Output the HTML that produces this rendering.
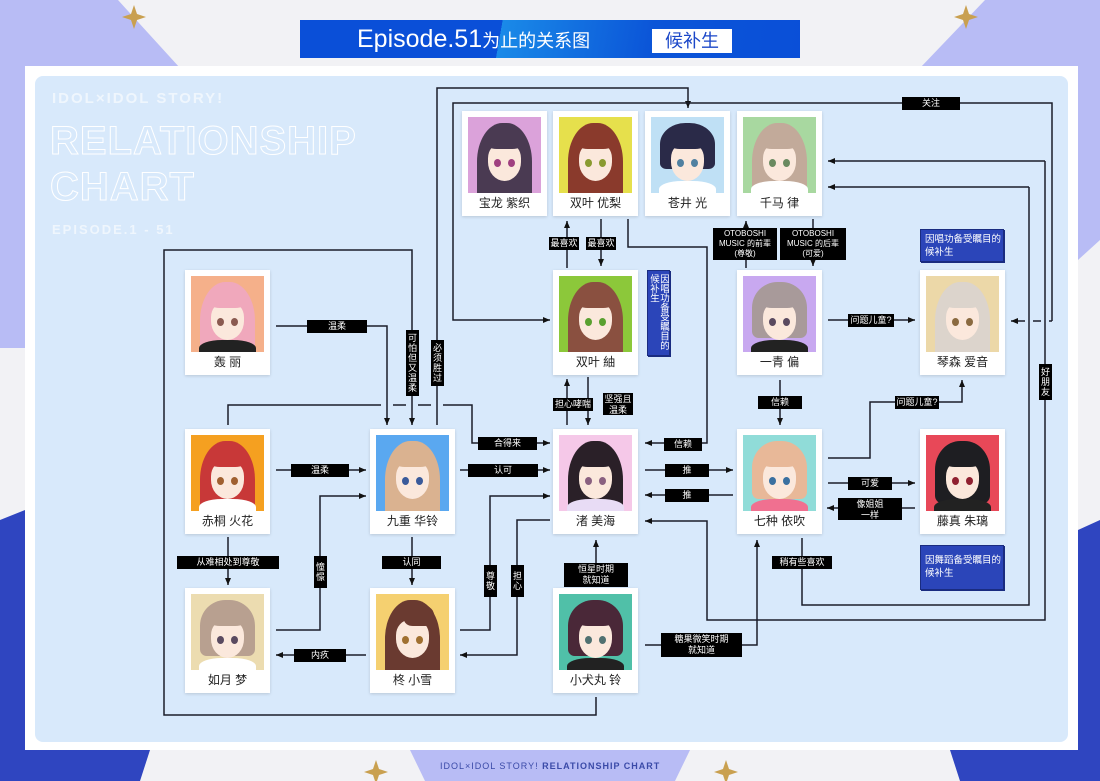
<!DOCTYPE html>
<html><head><meta charset="utf-8">
<style>
*{margin:0;padding:0;box-sizing:border-box}
body{width:1100px;height:781px;position:relative;overflow:hidden;background:#f2f2f5;font-family:"Liberation Sans","Noto Sans CJK SC",sans-serif}
.abs{position:absolute}
.card{position:absolute;width:85px;height:105px;background:#fff;box-shadow:0 1px 3px rgba(0,0,0,.15)}
.pic{position:absolute;left:6px;top:6px;width:73px;height:76px;overflow:hidden}
.hair{position:absolute;left:9px;top:6px;width:55px;height:84px;border-radius:46% 46% 12% 12%}
.face{position:absolute;left:20px;top:26px;width:33px;height:38px;background:#fbe8dc;border-radius:40% 40% 50% 50%}
.bang{position:absolute;left:17px;top:10px;width:39px;height:22px;border-radius:50% 50% 30% 30%}
.eye{position:absolute;top:42px;width:7px;height:8px;border-radius:50%;background:#5a4a60}
.body{position:absolute;left:8px;top:64px;width:57px;height:20px;background:#fff;border-radius:40% 40% 0 0}
.nm{position:absolute;top:84px;width:100%;text-align:center;font-size:12px;color:#222;line-height:16px}
.l{position:absolute;background:#000;color:#fff;font-size:9px;line-height:11px;text-align:center;padding:1px 0;white-space:nowrap}
.v{position:absolute;background:#000;color:#fff;font-size:9px;line-height:10px;width:13px;text-align:center;padding:3px 0;white-space:nowrap}
.call{position:absolute;background:#2b45b9;color:#fff;font-size:9.5px;line-height:13px;padding:3px 4px;border:1px solid #1a2c80;box-shadow:1px 1px 0 #1a2c80;white-space:nowrap}
</style></head><body>
<svg class="abs" style="left:0;top:0" width="1100" height="781">
<polygon points="0,0 118,0 180,68 0,68" fill="#b8bcf5"/>
<polygon points="985,0 1100,0 1100,68 920,68" fill="#b8bcf5"/>
<rect x="0" y="68" width="25" height="280" fill="#b8bcf5"/>
<rect x="1078" y="68" width="22" height="200" fill="#b8bcf5"/>
<polygon points="1078,260 1100,240 1100,520 1078,530" fill="#f2f2f5"/>
<polygon points="0,520 25,510 25,781 0,781" fill="#2f45c0"/>
<polygon points="1078,530 1100,520 1100,781 1078,781" fill="#2f45c0"/>
<polygon points="0,750 150,750 140,781 0,781" fill="#2f45c0"/>
<polygon points="950,750 1100,750 1100,781 960,781" fill="#2f45c0"/>
<polygon points="410,750 690,750 675,781 425,781" fill="#b8bcf5"/>
<path d="M134,5 l3,9 9,3 -9,3 -3,9 -3,-9 -9,-3 9,-3z" fill="#c9a050"/>
<path d="M966,5 l3,9 9,3 -9,3 -3,9 -3,-9 -9,-3 9,-3z" fill="#c9a050"/>
<path d="M376,760 l3,9 9,3 -9,3 -3,9 -3,-9 -9,-3 9,-3z" fill="#c9a050"/>
<path d="M726,760 l3,9 9,3 -9,3 -3,9 -3,-9 -9,-3 9,-3z" fill="#c9a050"/>
<rect x="25" y="66" width="1053" height="684" fill="#fff"/>
<rect x="35" y="76" width="1033" height="666" rx="8" fill="#d8e9fb"/>
</svg>
<div class="abs" style="left:300px;top:20px;width:500px;height:38px;background:linear-gradient(100deg,#0a4fd8 0%,#0a4fd8 40%,#1a8ae8 40%,#0b55d8 70%,#0a4fd8 100%)"></div>
<div class="abs" style="left:357px;top:21px;color:#fff;font-size:25px;line-height:36px">Episode.51<span style="font-size:18px">为止的关系图</span></div>
<div class="abs" style="left:652px;top:29px;width:80px;height:24px;background:#fff;color:#1b47c8;font-size:18px;line-height:24px;text-align:center">候补生</div>
<div class="abs" style="left:440px;top:761px;color:#3a4aa8;font-size:9px;letter-spacing:1px">IDOL×IDOL STORY! <b>RELATIONSHIP CHART</b></div>
<div class="abs" style="left:52px;top:90px;color:rgba(255,255,255,.6);font-size:15px;font-weight:bold;letter-spacing:2px">IDOL×IDOL STORY!</div>
<div class="abs" style="left:50px;top:118px;color:transparent;-webkit-text-stroke:1px #fff;font-size:40px;font-weight:bold;letter-spacing:1px;line-height:46px">RELATIONSHIP<br>CHART</div>
<div class="abs" style="left:52px;top:222px;color:rgba(255,255,255,.6);font-size:13px;font-weight:bold;letter-spacing:2px">EPISODE.1 - 51</div>

<svg class="abs" style="left:0;top:0" width="1100" height="781">
<defs><marker id="a" markerWidth="8" markerHeight="8" refX="7" refY="4" orient="auto" markerUnits="userSpaceOnUse"><path d="M0,1 L7,4 L0,7z" fill="#111"/></marker></defs>
<g fill="none" stroke="#1a1d2a" stroke-width="1.5">
<path d="M437,425 V88 H688 V108" marker-end="url(#a)"/>
<path d="M596,697 V715 H164 V250 H412 V425" marker-end="url(#a)"/>
<path d="M276,326 H387 V425" marker-end="url(#a)"/>
<path d="M1052,321 V103 H453 V320 H550" marker-end="url(#a)"/>
<path d="M1052,321 H1049 M1041,321 H1033 M1025,321 H1011" marker-end="url(#a)"/>
<path d="M1045,161 H828" marker-end="url(#a)"/>
<path d="M1045,161 V620 H707 V521 H645" marker-end="url(#a)"/>
<path d="M1029,187 H828" marker-end="url(#a)"/>
<path d="M1029,187 V605 H802 V538"/>
<path d="M628,219 V247 H707 V443 H645" marker-end="url(#a)"/>
<path d="M567,268 V221" marker-end="url(#a)"/>
<path d="M601,219 V266" marker-end="url(#a)"/>
<path d="M746,268 V221" marker-end="url(#a)"/>
<path d="M813,219 V266" marker-end="url(#a)"/>
<path d="M828,320 H915" marker-end="url(#a)"/>
<path d="M780,380 V425" marker-end="url(#a)"/>
<path d="M828,458 H870 V402 H962 V380" marker-end="url(#a)"/>
<path d="M828,483 H915" marker-end="url(#a)"/>
<path d="M915,508 H827" marker-end="url(#a)"/>
<path d="M645,470 H733" marker-end="url(#a)"/>
<path d="M733,495 H645" marker-end="url(#a)"/>
<path d="M567,425 V379" marker-end="url(#a)"/>
<path d="M588,377 V425" marker-end="url(#a)"/>
<path d="M460,470 H550" marker-end="url(#a)"/>
<path d="M228,425 V405 H381 M393,405 H406 M418,405 H431 M443,405 H472 V443 H550" marker-end="url(#a)"/>
<path d="M276,470 H366" marker-end="url(#a)"/>
<path d="M228,537 V585" marker-end="url(#a)"/>
<path d="M276,630 H320 V496 H366" marker-end="url(#a)"/>
<path d="M412,537 V585" marker-end="url(#a)"/>
<path d="M460,630 H490 V496 H550" marker-end="url(#a)"/>
<path d="M550,520 H517 V655 H460" marker-end="url(#a)"/>
<path d="M366,655 H276" marker-end="url(#a)"/>
<path d="M596,585 V540" marker-end="url(#a)"/>
<path d="M645,645 H757 V540" marker-end="url(#a)"/>
</g></svg>

<div class="card" style="left:462px;top:111px"><div class="pic" style="background:#dba2da"><div class="hair" style="background:#4a3a52"></div><div class="face"></div><div class="bang" style="background:#4a3a52"></div><div class="eye" style="left:26px;background:#a04080"></div><div class="eye" style="left:40px;background:#a04080"></div></div><div class="nm">宝龙 紫织</div></div>
<div class="card" style="left:553px;top:111px"><div class="pic" style="background:#e6e04c"><div class="hair" style="background:#8a3a2c"></div><div class="face"></div><div class="bang" style="background:#8a3a2c"></div><div class="eye" style="left:26px;background:#8a9a30"></div><div class="eye" style="left:40px;background:#8a9a30"></div></div><div class="nm">双叶 优梨</div></div>
<div class="card" style="left:645px;top:111px"><div class="pic" style="background:#bfe0f5"><div class="hair" style="background:#2a2a48;height:46px"></div><div class="face"></div><div class="bang" style="background:#2a2a48"></div><div class="eye" style="left:26px;background:#5080a0"></div><div class="eye" style="left:40px;background:#5080a0"></div><div class="body"></div></div><div class="nm">苍井 光</div></div>
<div class="card" style="left:737px;top:111px"><div class="pic" style="background:#a8d8a0"><div class="hair" style="background:#c2aa9a"></div><div class="face"></div><div class="bang" style="background:#c2aa9a"></div><div class="eye" style="left:26px;background:#6a8a60"></div><div class="eye" style="left:40px;background:#6a8a60"></div><div class="body"></div></div><div class="nm">千马 律</div></div>

<div class="card" style="left:553px;top:270px"><div class="pic" style="background:#8cc83a"><div class="hair" style="background:#8a5040"></div><div class="face"></div><div class="bang" style="background:#8a5040"></div><div class="eye" style="left:26px;background:#5aa030"></div><div class="eye" style="left:40px;background:#5aa030"></div></div><div class="nm">双叶 紬</div></div>
<div class="card" style="left:737px;top:270px"><div class="pic" style="background:#c8a8f0"><div class="hair" style="background:#a89a9a;height:56px"></div><div class="face"></div><div class="bang" style="background:#a89a9a"></div><div class="eye" style="left:26px"></div><div class="eye" style="left:40px"></div><div class="body" style="background:#222"></div></div><div class="nm">一青 偏</div></div>
<div class="card" style="left:920px;top:270px"><div class="pic" style="background:#ecd8a8"><div class="hair" style="background:#dcd4cc"></div><div class="face"></div><div class="bang" style="background:#dcd4cc"></div><div class="eye" style="left:26px;background:#8a6a40"></div><div class="eye" style="left:40px;background:#8a6a40"></div></div><div class="nm">琴森 爱音</div></div>
<div class="card" style="left:185px;top:270px"><div class="pic" style="background:#f5b08a"><div class="hair" style="background:#f0a8bc"></div><div class="face"></div><div class="bang" style="background:#f0a8bc"></div><div class="eye" style="left:26px;background:#8a5a50"></div><div class="eye" style="left:40px;background:#8a5a50"></div><div class="body" style="background:#222"></div></div><div class="nm">轰 丽</div></div>

<div class="card" style="left:185px;top:429px"><div class="pic" style="background:#f5a020"><div class="hair" style="background:#c83838"></div><div class="face"></div><div class="bang" style="background:#c83838"></div><div class="eye" style="left:26px;background:#a06030"></div><div class="eye" style="left:40px;background:#a06030"></div><div class="body"></div></div><div class="nm">赤桐 火花</div></div>
<div class="card" style="left:370px;top:429px"><div class="pic" style="background:#5aa8f0"><div class="hair" style="background:#dab290"></div><div class="face"></div><div class="bang" style="background:#dab290"></div><div class="eye" style="left:26px;background:#3a5a9a"></div><div class="eye" style="left:40px;background:#3a5a9a"></div></div><div class="nm">九重 华铃</div></div>
<div class="card" style="left:553px;top:429px"><div class="pic" style="background:#f5c8e8"><div class="hair" style="background:#2a2028"></div><div class="face"></div><div class="bang" style="background:#2a2028"></div><div class="eye" style="left:26px;background:#8a6080"></div><div class="eye" style="left:40px;background:#8a6080"></div><div class="body" style="background:#e8dcf5"></div></div><div class="nm">渚 美海</div></div>
<div class="card" style="left:737px;top:429px"><div class="pic" style="background:#90dcd8"><div class="hair" style="background:#e8b898;height:58px"></div><div class="face"></div><div class="bang" style="background:#e8b898"></div><div class="eye" style="left:26px;background:#3a70a0"></div><div class="eye" style="left:40px;background:#3a70a0"></div><div class="body" style="background:#f07090"></div></div><div class="nm">七种 依吹</div></div>
<div class="card" style="left:920px;top:429px"><div class="pic" style="background:#e84858"><div class="hair" style="background:#1e1e22;height:62px"></div><div class="face"></div><div class="bang" style="background:#1e1e22"></div><div class="eye" style="left:26px;background:#902030"></div><div class="eye" style="left:40px;background:#902030"></div><div class="body" style="background:#222"></div></div><div class="nm">藤真 朱璃</div></div>

<div class="card" style="left:185px;top:588px"><div class="pic" style="background:#ecdcb0"><div class="hair" style="background:#b8a090;height:56px"></div><div class="face"></div><div class="bang" style="background:#b8a090"></div><div class="eye" style="left:26px"></div><div class="eye" style="left:40px"></div><div class="body"></div></div><div class="nm">如月 梦</div></div>
<div class="card" style="left:370px;top:588px"><div class="pic" style="background:#f5d070"><div class="hair" style="background:#6a3a30"></div><div class="face"></div><div class="bang" style="background:#6a3a30;width:30px;left:28px"></div><div class="eye" style="left:26px;background:#a07030"></div><div class="eye" style="left:40px;background:#a07030"></div></div><div class="nm">柊 小雪</div></div>
<div class="card" style="left:553px;top:588px"><div class="pic" style="background:#50c0a8"><div class="hair" style="background:#4a2838;height:56px"></div><div class="face"></div><div class="bang" style="background:#4a2838"></div><div class="eye" style="left:26px;background:#507070"></div><div class="eye" style="left:40px;background:#507070"></div><div class="body" style="background:#222"></div></div><div class="nm">小犬丸 铃</div></div>

<div class="call" style="left:647px;top:270px;width:23px;height:86px;writing-mode:vertical-rl;padding:3px 1px;font-size:9.5px;line-height:10px">因唱功备受瞩目的<br>候补生</div>
<div class="call" style="left:920px;top:229px;width:84px;height:33px">因唱功备受瞩目的<br>候补生</div>
<div class="call" style="left:920px;top:545px;width:84px;height:45px;padding-top:8px">因舞蹈备受瞩目的<br>候补生</div>

<div class="l" style="left:307px;top:320px;width:60px">温柔</div>
<div class="v" style="left:406px;top:330px">可<br>怕<br>但<br>又<br>温<br>柔</div>
<div class="v" style="left:431px;top:340px">必<br>须<br>胜<br>过</div>
<div class="l" style="left:902px;top:97px;width:58px">关注</div>
<div class="l" style="left:549px;top:237px;width:30px">最喜欢</div>
<div class="l" style="left:586px;top:237px;width:30px">最喜欢</div>
<div class="l" style="left:713px;top:228px;width:64px;height:32px;font-size:8px;line-height:10px">OTOBOSHI<br>MUSIC 的前辈<br>(尊敬)</div>
<div class="l" style="left:780px;top:228px;width:66px;height:32px;font-size:8px;line-height:10px">OTOBOSHI<br>MUSIC 的后辈<br>(可爱)</div>
<div class="l" style="left:664px;top:438px;width:38px">信赖</div>
<div class="l" style="left:848px;top:314px;width:46px">问题儿童?</div>
<div class="l" style="left:758px;top:396px;width:44px">信赖</div>
<div class="l" style="left:895px;top:396px;width:44px">问题儿童?</div>
<div class="v" style="left:1039px;top:364px">好<br>朋<br>友</div>
<div class="l" style="left:848px;top:477px;width:44px">可爱</div>
<div class="l" style="left:838px;top:498px;width:64px;height:22px">像姐姐<br>一样</div>
<div class="l" style="left:665px;top:464px;width:44px">推</div>
<div class="l" style="left:665px;top:489px;width:44px">推</div>
<div class="l" style="left:553px;top:398px;width:40px">担心哮喘</div>
<div class="l" style="left:603px;top:393px;width:30px;height:22px">坚强且<br>温柔</div>
<div class="l" style="left:478px;top:437px;width:59px">合得来</div>
<div class="l" style="left:468px;top:464px;width:70px">认可</div>
<div class="l" style="left:291px;top:464px;width:58px">温柔</div>
<div class="l" style="left:177px;top:556px;width:102px">从难相处到尊敬</div>
<div class="v" style="left:314px;top:556px;padding:6px 0">憧<br>憬</div>
<div class="l" style="left:382px;top:556px;width:59px">认同</div>
<div class="v" style="left:484px;top:565px;padding:6px 0">尊<br>敬</div>
<div class="v" style="left:511px;top:565px;padding:6px 0">担<br>心</div>
<div class="l" style="left:564px;top:563px;width:64px;height:24px">恒星时期<br>就知道</div>
<div class="l" style="left:294px;top:649px;width:52px">内疚</div>
<div class="l" style="left:772px;top:556px;width:60px">稍有些喜欢</div>
<div class="l" style="left:661px;top:633px;width:81px;height:24px">糖果微笑时期<br>就知道</div>
</body></html>
